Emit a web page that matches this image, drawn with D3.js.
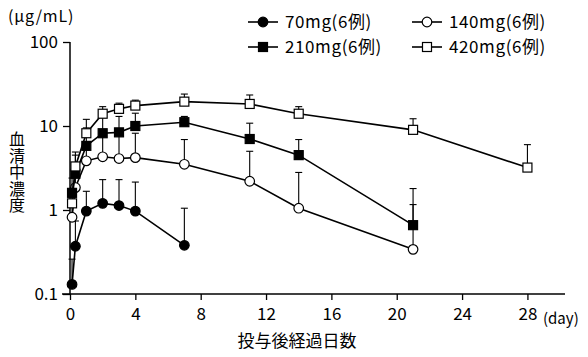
<!DOCTYPE html>
<html><head><meta charset="utf-8">
<script src="https://cdn.jsdelivr.net/npm/d3@7"></script>
<style>
body{margin:0;background:#fff;}
svg{display:block;}
text{font-family:"Noto Sans CJK JP","Noto Sans",sans-serif;fill:#000;}
</style></head>
<body>
<svg id="c" width="588" height="357"></svg>
<script>
const xTicks = [0, 4, 8, 12, 16, 20, 24, 28];
const yTicks = [0.1, 1, 10, 100];
const yTickLabels = ["0.1", "1", "10", "100"];

const seriesNames = ["70mg(6例)", "140mg(6例)", "210mg(6例)", "420mg(6例)"];

const days70 = [0.125, 0.33, 1, 2, 3, 4, 7];
const mean70 = [0.13, 0.37, 0.97, 1.2, 1.13, 0.97, 0.38];
const top70  = [0.26, 0.74, 1.67, 2.3, 2.3, 2.15, 1.05];

const days140 = [0.125, 0.33, 1, 2, 3, 4, 7, 11, 14, 21];
const mean140 = [0.82, 1.85, 3.85, 4.3, 4.1, 4.2, 3.5, 2.2, 1.05, 0.34];
const top140  = [1.1, 3.0, 6.3, 7.8, 8.0, 8.2, 6.9, 5.0, 2.8, 1.16];

const days210 = [0.125, 0.33, 1, 2, 3, 4, 7, 11, 14, 21];
const mean210 = [1.6, 2.7, 5.8, 8.2, 8.4, 10.0, 11.1, 7.0, 4.5, 0.66];
const top210  = [2.4, 4.5, 9.5, 13, 13, 14.2, 13, 10.8, 6.9, 1.8];

const days420 = [0.125, 0.33, 1, 2, 3, 4, 7, 11, 14, 21, 28];
const mean420 = [1.2, 3.3, 8.2, 14, 16, 17.5, 19.5, 18.3, 14, 9.0, 3.2];
const top420  = [1.7, 4.9, 12, 17, 18.7, 20.3, 24, 23.4, 17, 12.2, 6.0];

const svg = d3.select("#c");
const x = d3.scaleLinear().domain([0, 30.3]).range([70, 565]);
const y = d3.scaleLog().domain([0.1, 100]).range([294, 42]);

// axes
const xAxis = d3.axisBottom(x).tickValues(xTicks).tickSize(6).tickFormat(d3.format("d"));
const gx = svg.append("g").attr("transform", `translate(0,${y(0.1)})`).call(xAxis);
gx.select(".domain").attr("d", `M${x(0)-8},0H${x.range()[1]}`);
gx.selectAll("line").attr("stroke", "#000").attr("stroke-width", 1.3);
gx.select(".domain").attr("stroke", "#000").attr("stroke-width", 1.5);
gx.selectAll("text").attr("font-size", 17).attr("dy", "0.9em").attr("y", 11);

const yAxis = d3.axisLeft(y).tickValues(yTicks).tickSize(7).tickFormat((d, i) => yTickLabels[i]);
const gy = svg.append("g").attr("transform", `translate(${x(0)},0)`).call(yAxis);
gy.select(".domain").attr("d", `M0,${y(100)}V${y(0.1)}`).attr("stroke", "#000").attr("stroke-width", 1.5);
gy.selectAll("line").attr("stroke", "#000").attr("stroke-width", 1.3);
gy.selectAll("text").attr("font-size", 17).attr("x", -12);

svg.append("text").attr("x", 543).attr("y", y(0.1) + 30).attr("font-size", 15).text("(day)");
svg.append("text").attr("x", 297).attr("y", 347).attr("text-anchor", "middle").attr("font-size", 17).text("投与後経過日数");
svg.append("text").attr("x", 8).attr("y", 22).attr("font-size", 16).attr("letter-spacing", 0.8).text("(μg/mL)");
svg.append("text").attr("x", 17).attr("y", 131)
  .attr("writing-mode", "vertical-rl").attr("text-orientation", "upright")
  .attr("font-size", 16).attr("letter-spacing", 0.5).text("血清中濃度");

const series = [
  {days: days70, mean: mean70, top: top70, shape: "circle", fill: "#000"},
  {days: days140, mean: mean140, top: top140, shape: "circle", fill: "#fff"},
  {days: days210, mean: mean210, top: top210, shape: "square", fill: "#000"},
  {days: days420, mean: mean420, top: top420, shape: "square", fill: "#fff"}
];

const line = d3.line().x(d => x(d.d)).y(d => y(d.m));

function marker(g, shape, fill, cx, cy) {
  if (shape === "circle") {
    g.append("circle").attr("cx", cx).attr("cy", cy).attr("r", 4.8)
      .attr("fill", fill).attr("stroke", "#000").attr("stroke-width", 1.2);
  } else {
    g.append("rect").attr("x", cx - 4.5).attr("y", cy - 4.5).attr("width", 9).attr("height", 9)
      .attr("fill", fill).attr("stroke", "#000").attr("stroke-width", 1.2);
  }
}

series.forEach(s => {
  const pts = s.days.map((d, i) => ({d, m: s.mean[i], t: s.top[i]}));
  const g = svg.append("g");
  g.append("path").attr("d", line(pts)).attr("fill", "none").attr("stroke", "#000").attr("stroke-width", 1.6);
  pts.forEach(p => {
    g.append("line").attr("x1", x(p.d)).attr("x2", x(p.d)).attr("y1", y(p.m)).attr("y2", y(p.t))
      .attr("stroke", "#000").attr("stroke-width", 1.1);
    g.append("line").attr("x1", x(p.d) - 3.5).attr("x2", x(p.d) + 3.5).attr("y1", y(p.t)).attr("y2", y(p.t))
      .attr("stroke", "#000").attr("stroke-width", 1.1);
  });
  pts.forEach(p => marker(g, s.shape, s.fill, x(p.d), y(p.m)));
});

// legend
const legPos = [[248, 22], [412, 22], [248, 47], [412, 47]];
series.forEach((s, i) => {
  const [lx, ly] = legPos[i];
  const g = svg.append("g");
  g.append("line").attr("x1", lx).attr("x2", lx + 30).attr("y1", ly).attr("y2", ly).attr("stroke", "#000").attr("stroke-width", 1.6);
  marker(g, s.shape, s.fill, lx + 15, ly);
  g.append("text").attr("x", lx + 37).attr("y", ly).attr("dy", "0.36em").attr("font-size", 17)
    .attr("letter-spacing", 0.6).text(seriesNames[i]);
});
</script>
</body></html>
